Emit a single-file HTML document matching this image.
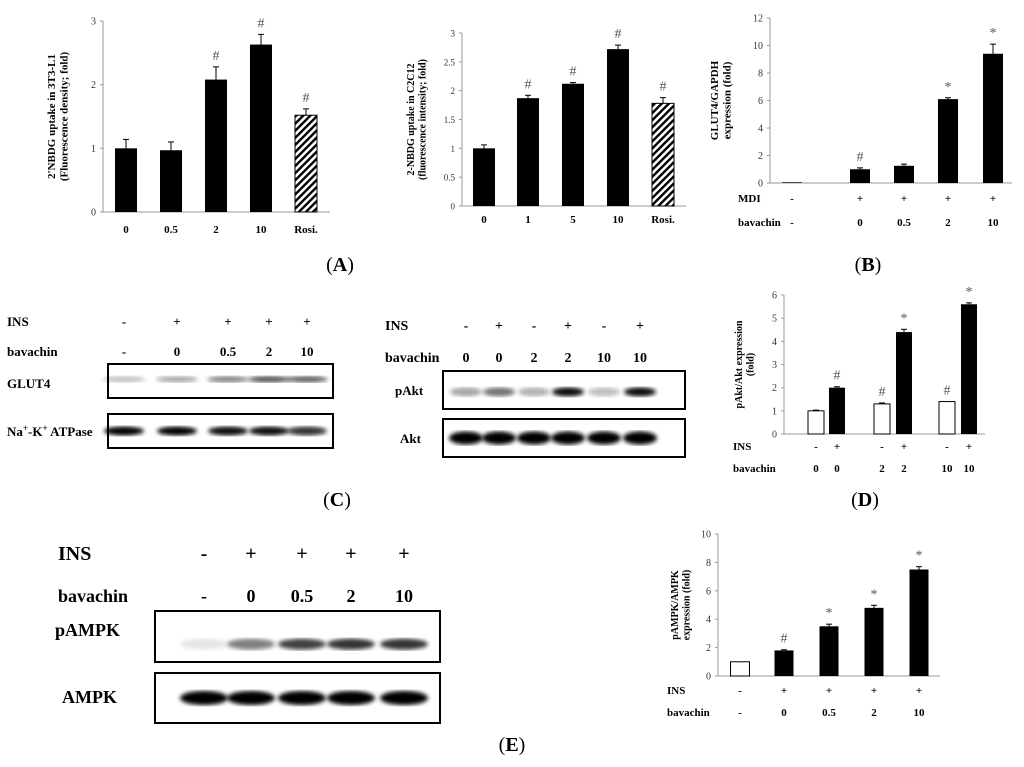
<!DOCTYPE html>
<html><head><meta charset="utf-8"><style>
html,body{margin:0;padding:0;background:#fff;}
svg{display:block;font-family:"Liberation Serif",serif;}
</style></head><body>
<svg id="fig" width="1024" height="767" viewBox="0 0 1024 767">
<defs>
<pattern id="hatch" width="5" height="5" patternUnits="userSpaceOnUse" patternTransform="rotate(45)">
<rect width="5" height="5" fill="#fff"/><rect width="2.4" height="5" fill="#000"/></pattern>
<filter id="blur"><feGaussianBlur stdDeviation="2"/></filter>
</defs>
<g id="layer"></g>
</svg>
<script>
// ---- data ----
const aCats=["0","0.5","2","10","Rosi."];
const aVals=[1.0,0.97,2.08,2.63,1.52];
const aErr=[0.14,0.13,0.2,0.16,0.1];
const aMarks=["","","#","#","#"];
const a2Cats=["0","1","5","10","Rosi."];
const a2Vals=[1.0,1.87,2.12,2.72,1.78];
const a2Err=[0.06,0.05,0.02,0.07,0.1];
const a2Marks=["","#","#","#","#"];
const bMDI=["-","+","+","+","+"];
const bBav=["-","0","0.5","2","10"];
const bVals=[0.05,1.0,1.25,6.1,9.4];
const bErr=[0,0.1,0.12,0.1,0.7];
const bMarks=["","#","","*","*"];
const dIns=["-","+","-","+","-","+"];
const dBav=["0","0","2","2","10","10"];
const dVals=[1.0,2.0,1.3,4.4,1.4,5.6];
const dErr=[0.03,0.04,0.04,0.12,0,0.06];
const dMarks=["","#","#","*","#","*"];
const eIns=["-","+","+","+","+"];
const eBav=["-","0","0.5","2","10"];
const eVals=[1.0,1.8,3.5,4.8,7.5];
const eErr=[0,0.05,0.15,0.18,0.2];
const eMarks=["","#","*","*","*"];

const NS="http://www.w3.org/2000/svg";
const L=document.getElementById('layer');
function el(tag,attrs,parent){const e=document.createElementNS(NS,tag);for(const k in attrs)e.setAttribute(k,attrs[k]);(parent||L).appendChild(e);return e;}
function txt(x,y,s,size,opts,parent){const t=el('text',Object.assign({x:x,y:y,'font-size':size,'text-anchor':'middle'},opts||{}),parent);t.textContent=s;return t;}

function chart(cfg){
  const g=el('g',{});
  
  
  const sy=v=>cfg.y0-(v/cfg.max)*(cfg.y0-cfg.yTop);
  el('line',{x1:cfg.ax,y1:cfg.yTop,x2:cfg.ax,y2:cfg.y0,stroke:'#999','stroke-width':1},g);
  el('line',{x1:cfg.ax,y1:cfg.y0,x2:cfg.axEnd,y2:cfg.y0,stroke:'#999','stroke-width':1},g);
  cfg.ticks.forEach(t=>{
    el('line',{x1:cfg.ax-3,y1:sy(t),x2:cfg.ax,y2:sy(t),stroke:'#999'},g);
    const lb=txt(cfg.ax-7,sy(t)+3.5,String(t),cfg.tickSize||10,{'text-anchor':'end',fill:'#333'},g);
    
    
  });
  cfg.vals.forEach((v,i)=>{
    const cx=cfg.xs[i],w=cfg.bw;
    const fill=cfg.fills?cfg.fills[i]:'#000';
    const r=el('rect',{x:cx-w/2,y:sy(v),width:w,height:cfg.y0-sy(v),fill:fill,stroke:'#000','stroke-width':fill==='#000'?0:1},g);
    
    
    if(cfg.err[i]>0){
      el('line',{x1:cx,y1:sy(v),x2:cx,y2:sy(v+cfg.err[i]),stroke:'#000','stroke-width':1},g);
      el('line',{x1:cx-3,y1:sy(v+cfg.err[i]),x2:cx+3,y2:sy(v+cfg.err[i]),stroke:'#000'},g);
    }
    if(cfg.marks[i]){
      const m=txt(cx,sy(v+cfg.err[i])-7,cfg.marks[i],cfg.markSize||14,{fill:'#555'},g);
      
      
    }
  });
  if(cfg.xl) cfg.xl.forEach((s,i)=>{const t=txt(cfg.xs[i],cfg.xlY,s,11,{'font-weight':'bold'},g);
    });
  const yl=el('text',{transform:'translate('+cfg.ylX+','+((cfg.y0+cfg.yTop)/2)+') rotate(-90)','font-size':cfg.ylSize,'font-weight':'bold','text-anchor':'middle'},g);
  cfg.ylab.forEach((s,k)=>{const ts=el('tspan',{x:0,dy:k?cfg.ylSize*1.15:0},yl);ts.textContent=s;});
  
  
  return g;
}

chart({name:'chart-a-3t3',ax:103,axEnd:330,y0:212,yTop:21,max:3,ticks:[0,1,2,3],
  xs:[126,171,216,261,306],bw:22,vals:aVals,err:aErr,marks:aMarks,xl:aCats,xlY:233,
  fills:['#000','#000','#000','#000','url(#hatch)'],ylX:55,ylSize:11,
  ylab:["2'NBDG uptake in 3T3-L1","(Fluorescence density; fold)"]});
chart({name:'chart-a-c2c12',ax:462,axEnd:686,y0:206,yTop:33,max:3,ticks:[0,0.5,1,1.5,2,2.5,3],tickSize:9,
  xs:[484,528,573,618,663],bw:22,vals:a2Vals,err:a2Err,marks:a2Marks,xl:a2Cats,xlY:223,
  fills:['#000','#000','#000','#000','url(#hatch)'],ylX:414,ylSize:10,
  ylab:["2-NBDG uptake in C2C12","(fluorescence intensity; fold)"]});
chart({name:'chart-b-glut4',ax:770,axEnd:1012,y0:183,yTop:18,max:12,ticks:[0,2,4,6,8,10,12],
  xs:[792,860,904,948,993],bw:20,vals:bVals,err:bErr,marks:bMarks,ylX:718,ylSize:11,
  ylab:["GLUT4/GAPDH","expression (fold)"]});
chart({name:'chart-d-pakt',ax:784,axEnd:985,y0:434,yTop:295,max:6,ticks:[0,1,2,3,4,5,6],
  xs:[816,837,882,904,947,969],bw:16,vals:dVals,err:dErr,marks:dMarks,
  fills:['#fff','#000','#fff','#000','#fff','#000'],ylX:742,ylSize:10,
  ylab:["pAkt/Akt expression","(fold)"]});
chart({name:'chart-e-pampk',ax:718,axEnd:940,y0:676,yTop:534,max:10,ticks:[0,2,4,6,8,10],
  xs:[740,784,829,874,919],bw:19,vals:eVals,err:eErr,marks:eMarks,
  fills:['#fff','#000','#000','#000','#000'],ylX:678,ylSize:10,
  ylab:["pAMPK/AMPK","expression (fold)"]});

function rowLabels(name,label,lx,y,xs,vals,size){
  const g=el('g',{});
  
  
  txt(lx,y,label,size,{'text-anchor':'start','font-weight':'bold'},g);
  vals.forEach((s,i)=>txt(xs[i],y,s,size,{'font-weight':'bold'},g));
}
rowLabels('b-mdi-row','MDI',738,202,[792,860,904,948,993],bMDI,11);
rowLabels('b-bavachin-row','bavachin',738,226,[792,860,904,948,993],bBav,11);
rowLabels('d-ins-row','INS',733,450,[816,837,882,904,947,969],dIns,11);
rowLabels('d-bavachin-row','bavachin',733,472,[816,837,882,904,947,969],dBav,11);
rowLabels('e-ins-row','INS',667,694,[740,784,829,874,919],eIns,11);
rowLabels('e-bavachin-row','bavachin',667,716,[740,784,829,874,919],eBav,11);

const c1x=[124,177,228,269,307];
rowLabels('c-ins-row','INS',7,326,c1x,["-","+","+","+","+"],13);
rowLabels('c-bavachin-row','bavachin',7,356,c1x,["-","0","0.5","2","10"],13);
const c2x=[466,499,534,568,604,640];
rowLabels('c2-ins-row','INS',385,330,c2x,["-","+","-","+","-","+"],14);
rowLabels('c2-bavachin-row','bavachin',385,362,c2x,["0","0","2","2","10","10"],14);
const ex=[204,251,302,351,404];
rowLabels('e-blot-ins-row','INS',58,560,ex,["-","+","+","+","+"],20);
rowLabels('e-blot-bavachin-row','bavachin',58,602,ex,["-","0","0.5","2","10"],18);

function blot(name,label,lx,ly,size,x,y,w,h,xs,bw,intens,bh,byoff){
  const g=el('g',{});
  
  
  if(label) txt(lx,ly,label,size,{'text-anchor':'start','font-weight':'bold'},g);
  el('rect',{x:x,y:y,width:w,height:h,fill:'#fff',stroke:'#000','stroke-width':2},g);
  xs.forEach((cx,i)=>{
    el('ellipse',{cx:cx,cy:y+h*byoff,rx:bw/2,ry:bh/2,fill:'rgba(0,0,0,'+intens[i]+')',filter:'url(#blur)'},g);
  });
}
blot('blot-glut4','GLUT4',7,388,13,108,364,225,34,c1x,42,[0.25,0.35,0.5,0.7,0.65],6,0.45);
const t=txt(7,436,'',13,{'text-anchor':'start','font-weight':'bold'});
t.innerHTML='Na<tspan dy="-5" font-size="9">+</tspan><tspan dy="5">-K</tspan><tspan dy="-5" font-size="9">+</tspan><tspan dy="5"> ATPase</tspan>';


blot('blot-na-k-atpase','',7,0,13,108,414,225,34,c1x,40,[1,1,0.95,0.95,0.8],9,0.5);
blot('blot-pakt','pAkt',395,395,13,443,371,242,38,c2x,32,[0.35,0.55,0.3,0.95,0.25,0.95],9,0.55);
blot('blot-akt','Akt',400,443,13,443,419,242,38,c2x,34,[1,1,1,1,1,1],13,0.5);
blot('blot-pampk','pAMPK',55,636,18,155,611,285,51,ex,48,[0.1,0.5,0.75,0.8,0.8],11,0.65);
blot('blot-ampk','AMPK',62,703,18,155,673,285,50,ex,48,[1,1,1,1,1],14,0.5);

[['A',340,271],['B',868,271],['C',337,506],['D',865,506],['E',512,751]].forEach(p=>{
  const t=txt(p[1],p[2],'',20);
  t.innerHTML='(<tspan font-weight="bold">'+p[0]+'</tspan>)';
  
  
});
</script>
</body></html>
